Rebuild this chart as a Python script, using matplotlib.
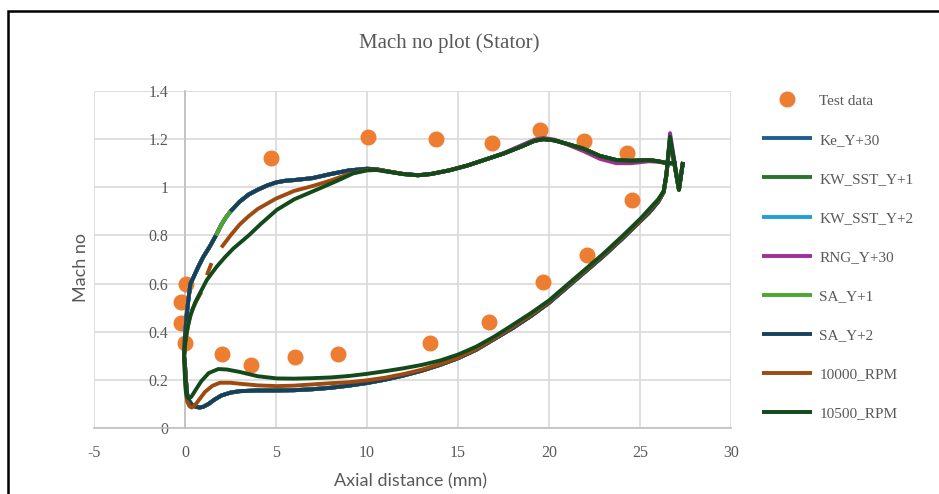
import numpy as np
import matplotlib
matplotlib.use("Agg")
import matplotlib.pyplot as plt
from matplotlib.patches import Rectangle

nan = np.nan

# ---------------- measured Mach numbers ----------------
test_x = [4.73, 10.05, 13.79, 16.87, 19.5, 21.92, 24.29, 24.56, 22.09, 19.67,
          16.70, 13.46, 8.41, 6.04, 3.63, 2.03, 0.0, -0.2, -0.2, 0.05]
test_y = [1.122, 1.209, 1.20, 1.184, 1.238, 1.192, 1.142, 0.947, 0.719, 0.607,
          0.440, 0.353, 0.307, 0.295, 0.262, 0.307, 0.355, 0.435, 0.525, 0.597]

# ---------------- CFD profiles (turbulence-model runs) ----------------
# trailing-edge kink, pressure side (TE -> LE), then suction side (LE -> TE)
cfd_x = [27.36, 27.14, 26.65, 26.58, 26.45, 26.3, 26.0, 25.5, 25.0, 24.0, 23.0,
         22.0, 21.0, 20.0, 19.0, 18.0, 17.0, 16.0, 15.0, 14.0, 13.0, 12.0, 11.0,
         10.0, 9.0, 8.0, 7.0, 6.0, 5.0, 4.0, 3.0, 2.5, 2.0, 1.6, 1.3, 1.0, 0.8,
         0.6, 0.4, 0.25, 0.12, 0.05, 0.0, -0.05,
         0.0, 0.08, 0.18, 0.3, 0.46, 0.7, 1.0, 1.37, 1.7, 2.0, 2.25, 2.5, 3.0,
         3.5, 4.0, 4.5, 5.0, 5.5, 6.0, 7.0, 8.0, 9.0, 10.0, 10.5, 11.0, 12.0,
         12.8, 13.5, 14.5, 15.5, 16.5, 17.5, 18.5, 19.2, 19.7, 20.3, 21.0, 21.9,
         22.8, 23.7, 24.5, 25.5, 26.0, 26.5, 27.0]
cfd_y = [1.105, 0.99, 1.20, 1.15, 1.05, 0.98, 0.94, 0.895, 0.858, 0.785, 0.715,
         0.65, 0.585, 0.52, 0.465, 0.415, 0.37, 0.325, 0.29, 0.262, 0.238, 0.218,
         0.201, 0.187, 0.176, 0.167, 0.161, 0.157, 0.156, 0.156, 0.153, 0.147,
         0.135, 0.117, 0.10, 0.088, 0.085, 0.088, 0.095, 0.11, 0.14, 0.2, 0.26, 0.3,
         0.38, 0.46, 0.53, 0.60, 0.625, 0.665, 0.71, 0.755, 0.80, 0.845, 0.875,
         0.90, 0.94, 0.97, 0.99, 1.007, 1.02, 1.027, 1.03, 1.038, 1.055, 1.07,
         1.077, 1.075, 1.068, 1.055, 1.05, 1.055, 1.07, 1.09, 1.115, 1.14, 1.17,
         1.193, 1.20, 1.195, 1.18, 1.16, 1.13, 1.113, 1.11, 1.113, 1.108, 1.10,
         1.10]

# RNG run: same abscissae, higher TE peak and a slightly deeper dip after 21 mm
rng_y = [1.105, 0.99, 1.225, 1.16, 1.05, 0.98, 0.94, 0.895, 0.858, 0.785, 0.715,
         0.65, 0.585, 0.52, 0.465, 0.415, 0.37, 0.325, 0.29, 0.262, 0.238, 0.218,
         0.201, 0.187, 0.176, 0.167, 0.161, 0.157, 0.156, 0.156, 0.153, 0.147,
         0.135, 0.117, 0.10, 0.088, 0.085, 0.088, 0.095, 0.11, 0.14, 0.2, 0.26, 0.3,
         0.38, 0.46, 0.53, 0.60, 0.625, 0.665, 0.71, 0.755, 0.80, 0.845, 0.875,
         0.90, 0.94, 0.97, 0.99, 1.007, 1.02, 1.027, 1.03, 1.038, 1.055, 1.07,
         1.077, 1.075, 1.068, 1.055, 1.05, 1.055, 1.07, 1.09, 1.115, 1.142, 1.175,
         1.198, 1.205, 1.198, 1.178, 1.15, 1.118, 1.10, 1.10, 1.108, 1.106, 1.10,
         1.10]

# SA_Y+2 run has missing samples on the suction side around 0.85
sa2_y = list(cfd_y)
sa2_y[cfd_x.index(2.0, 44)] = nan
sa2_y[cfd_x.index(2.25, 44)] = nan

# ---------------- 10000 RPM ----------------
rpm10000_x = [27.36, 27.14, 26.65, 26.58, 26.45, 26.3, 26.0, 25.0, 24.0, 23.0,
              22.0, 21.0, 20.0, 19.0, 18.0, 17.0, 16.0, 15.0, 14.0, 13.0, 12.0,
              11.0, 10.0, 9.0, 8.0, 7.0, 6.0, 5.04, 4.0, 3.0, 2.5, 1.92, 1.5,
              1.1, 0.8, 0.55, 0.37, 0.25, 0.12, 0.05, 0.0, -0.05,
              0.02, 0.09, 0.2, 0.4, 0.64, 0.9, 1.05, 1.2, 1.46, 1.7, 2.0, 2.5,
              3.0, 3.5, 4.0, 5.0, 6.0, 7.0, 8.0, 9.0, 10.0, 10.5, 11.0, 12.0,
              12.8, 13.5, 14.5, 15.5, 16.5, 17.5, 18.5, 19.2, 19.7, 20.3, 21.0,
              21.9, 22.8, 23.7, 24.5, 25.5, 26.0, 26.5, 27.0]
rpm10000_y = [1.105, 0.99, 1.20, 1.15, 1.05, 0.98, 0.945, 0.862, 0.79, 0.72,
              0.655, 0.59, 0.525, 0.47, 0.42, 0.373, 0.328, 0.292, 0.265, 0.242,
              0.224, 0.209, 0.198, 0.19, 0.186, 0.181, 0.176, 0.174, 0.177,
              0.184, 0.188, 0.188, 0.175, 0.15, 0.12, 0.095, 0.085, 0.09, 0.11,
              0.15, 0.22, 0.3,
              0.35, 0.39, 0.44, 0.49, 0.53, 0.565, nan, 0.635, 0.685, nan, 0.75,
              0.80, 0.845, 0.88, 0.91, 0.953, 0.985, 1.005, 1.028, 1.055, 1.072,
              1.074, 1.068, 1.055, 1.05, 1.055, 1.07, 1.09, 1.115, 1.14, 1.17,
              1.193, 1.20, 1.195, 1.18, 1.16, 1.13, 1.113, 1.11, 1.113, 1.108,
              1.10, 1.10]

# ---------------- 10500 RPM ----------------
rpm10500_x = [27.36, 27.14, 26.65, 26.58, 26.45, 26.3, 26.0, 25.0, 24.0, 23.0,
              22.0, 21.0, 20.0, 19.0, 18.0, 17.0, 16.0, 15.0, 14.0, 13.0, 12.0,
              11.0, 10.0, 9.0, 8.0, 7.0, 6.0, 5.04, 4.0, 3.0, 2.3, 1.83, 1.3,
              0.9, 0.6, 0.35, 0.2, 0.12, 0.05, 0.0, -0.05,
              0.0, 0.1, 0.3, 0.55, 0.82, 1.2, 1.74, 2.2, 2.66, 3.5, 4.2, 5.04,
              6.0, 7.42, 8.3, 9.25, 10.0, 10.5, 11.0, 12.0, 12.8, 13.5, 14.5,
              15.5, 16.5, 17.5, 18.5, 19.2, 19.7, 20.3, 21.0, 21.9, 22.8, 23.7,
              24.5, 25.5, 26.0, 26.5, 27.0]
rpm10500_y = [1.105, 0.99, 1.21, 1.155, 1.055, 0.985, 0.95, 0.868, 0.795, 0.725,
              0.66, 0.595, 0.53, 0.477, 0.428, 0.38, 0.338, 0.305, 0.28, 0.262,
              0.248, 0.236, 0.225, 0.216, 0.21, 0.207, 0.205, 0.206, 0.215,
              0.233, 0.243, 0.245, 0.228, 0.195, 0.16, 0.13, 0.122, 0.128, 0.15,
              0.2, 0.3,
              0.35, 0.40, 0.47, 0.52, 0.56, 0.615, 0.67, 0.71, 0.746, 0.80,
              0.85, 0.906, 0.95, 0.996, 1.025, 1.058, 1.07, 1.072, 1.066, 1.055,
              1.05, 1.055, 1.07, 1.09, 1.115, 1.14, 1.17, 1.193, 1.20, 1.195,
              1.18, 1.16, 1.13, 1.113, 1.11, 1.113, 1.108, 1.10, 1.10]

series = [
    ("Ke_Y+30",     cfd_x,      cfd_y,      "#1F5F8F"),
    ("KW_SST_Y+1",  cfd_x,      cfd_y,      "#26772D"),
    ("KW_SST_Y+2",  cfd_x,      cfd_y,      "#1FA0D8"),
    ("RNG_Y+30",    cfd_x,      rng_y,      "#9E2F99"),
    ("SA_Y+1",      cfd_x,      cfd_y,      "#4CA72E"),
    ("SA_Y+2",      cfd_x,      sa2_y,      "#17405E"),
    ("10000_RPM",   rpm10000_x, rpm10000_y, "#9E4A10"),
    ("10500_RPM",   rpm10500_x, rpm10500_y, "#134A1B"),
]

x_ticks = [-5, 0, 5, 10, 15, 20, 25, 30]
y_ticks = [0, 0.2, 0.4, 0.6, 0.8, 1, 1.2, 1.4]
y_tick_labels = ["0", "0.2", "0.4", "0.6", "0.8", "1", "1.2", "1.4"]

# ---------------- figure ----------------
W, H = 939, 494
fig = plt.figure(figsize=(W / 100, H / 100), dpi=100)
ax = fig.add_axes([94 / W, 1 - 428 / H, (731 - 94) / W, (428 - 91) / H])

serif = "Liberation Serif"
sans = "Lato"
txt = "#595959"

ax.plot(test_x, test_y, ls="none", marker="o", ms=10.5, color="#ED7D31",
        mec="#ED7D31", label="Test data", zorder=3)
for i, (name, xs, ys, col) in enumerate(series):
    ax.plot(xs, ys, color=col, lw=2.8, label=name, zorder=4 + i,
            solid_capstyle="butt", solid_joinstyle="round")

ax.set_xlim(-5, 30)
ax.set_ylim(0, 1.4)
ax.set_xticks(x_ticks)
ax.set_xticklabels([str(v) for v in x_ticks])
ax.set_yticks(y_ticks)
ax.set_yticklabels(y_tick_labels)
ax.grid(True, color="#D9D9D9", lw=1.2, zorder=0)
ax.set_axisbelow(True)
for s in ("top", "right"):
    ax.spines[s].set_visible(False)
ax.spines["left"].set_position(("data", 0))
ax.spines["left"].set_color("#BFBFBF")
ax.spines["bottom"].set_color("#BFBFBF")
ax.spines["left"].set_linewidth(1.2)
ax.spines["bottom"].set_linewidth(1.2)
ax.spines["left"].set_zorder(1)
ax.spines["bottom"].set_zorder(1)
ax.tick_params(axis="y", length=0, pad=12, labelsize=11.5, labelcolor=txt)
ax.tick_params(axis="x", length=0, pad=12, labelsize=11.5, labelcolor=txt)
for lab in ax.get_xticklabels() + ax.get_yticklabels():
    lab.set_fontfamily(serif)

fig.text(449.5 / W, 1 - 43 / H, "Mach no plot (Stator)", ha="center",
         va="center", fontsize=15, color=txt, family=serif)
fig.text(81 / W, 1 - 268 / H, "Mach no", rotation=90, ha="center",
         va="center", fontsize=13, color=txt, family=sans)
fig.text(410.5 / W, 1 - 481 / H, "Axial distance (mm)", ha="center",
         va="center", fontsize=13, color=txt, family=sans)

leg = fig.legend(loc="upper left", bbox_to_anchor=(762 / W, 1 - 94 / H),
                 frameon=False, borderpad=0, borderaxespad=0,
                 handlelength=3.3, handletextpad=0.45, labelspacing=1.66,
                 prop={"family": serif, "size": 11})
for t in leg.get_texts():
    t.set_color(txt)

fig.add_artist(Rectangle((8 / W, -0.1), 1.2, 1 - 11 / H + 0.1,
                         transform=fig.transFigure, fill=False,
                         ec="black", lw=1.8, clip_on=False))

fig.savefig("out.png", dpi=100)
